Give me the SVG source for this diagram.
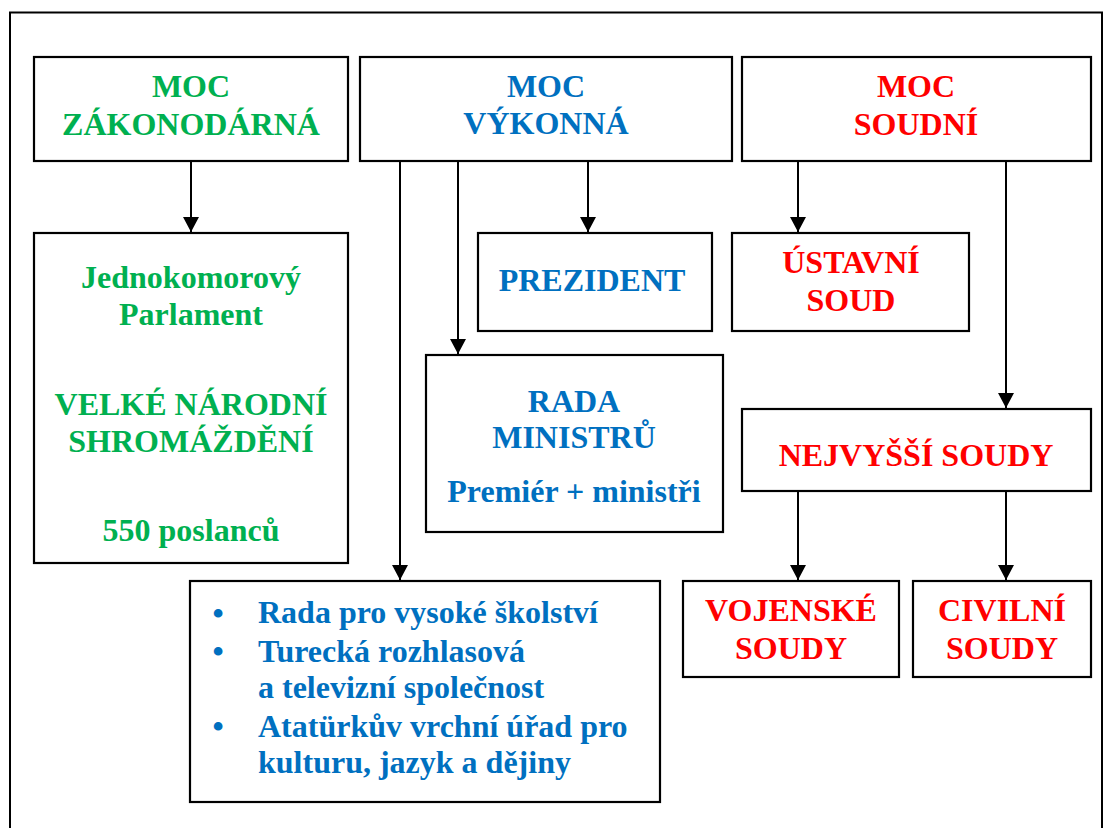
<svg xmlns="http://www.w3.org/2000/svg" width="1103" height="828" viewBox="0 0 1103 828">
<defs>
<marker id="arr" viewBox="0 0 15 16" refX="15" refY="8" markerWidth="15" markerHeight="16" markerUnits="userSpaceOnUse" orient="auto">
<path d="M0,0 L15,8 L0,16 z" fill="#000"/>
</marker>
<style>
.box{fill:#fff;stroke:#000;stroke-width:2.2}
.t{font-family:"Liberation Serif","Times New Roman",serif;font-weight:bold;font-size:32px;text-anchor:middle}
.l{text-anchor:start}
.g{fill:#00B050}
.b{fill:#0070C0}
.r{fill:#FF0000}
.c{stroke:#000;stroke-width:2;fill:none;marker-end:url(#arr)}
</style>
</defs>
<rect x="0" y="0" width="1103" height="828" fill="#fff"/>
<rect x="10" y="12.5" width="1092" height="840" fill="none" stroke="#000" stroke-width="2"/>

<g id="connectors">
<line class="c" x1="191" y1="161" x2="191" y2="232"/>
<line class="c" x1="400" y1="161" x2="400" y2="580"/>
<line class="c" x1="458" y1="161" x2="458" y2="354"/>
<line class="c" x1="588" y1="161" x2="588" y2="232"/>
<line class="c" x1="798" y1="161" x2="798" y2="232"/>
<line class="c" x1="1006" y1="161" x2="1006" y2="408"/>
<line class="c" x1="798" y1="491" x2="798" y2="580"/>
<line class="c" x1="1006" y1="491" x2="1006" y2="580"/>
</g>

<g id="moc-zakonodarna">
<rect class="box" x="34" y="57" width="314" height="104"/>
<text class="t g" x="191" y="97">MOC</text>
<text class="t g" x="191" y="135">ZÁKONODÁRNÁ</text>
</g>

<g id="moc-vykonna">
<rect class="box" x="360" y="57" width="372" height="104"/>
<text class="t b" x="546" y="97">MOC</text>
<text class="t b" x="546" y="134">VÝKONNÁ</text>
</g>

<g id="moc-soudni">
<rect class="box" x="742" y="57" width="349" height="104"/>
<text class="t r" x="916" y="97">MOC</text>
<text class="t r" x="916" y="135">SOUDNÍ</text>
</g>

<g id="parlament">
<rect class="box" x="34" y="233" width="314" height="330"/>
<text class="t g" x="191" y="288">Jednokomorový</text>
<text class="t g" x="191" y="325">Parlament</text>
<text class="t g" x="191" y="415">VELKÉ NÁRODNÍ</text>
<text class="t g" x="191" y="452">SHROMÁŽDĚNÍ</text>
<text class="t g" x="191" y="541">550 poslanců</text>
</g>

<g id="prezident">
<rect class="box" x="478" y="233" width="234" height="98"/>
<text class="t b" x="592" y="291">PREZIDENT</text>
</g>

<g id="rada-ministru">
<rect class="box" x="426" y="355" width="297" height="177"/>
<text class="t b" x="574" y="412">RADA</text>
<text class="t b" x="574" y="448">MINISTRŮ</text>
<text class="t b" x="574" y="502">Premiér + ministři</text>
</g>

<g id="ustavni-soud">
<rect class="box" x="732" y="233" width="237" height="98"/>
<text class="t r" x="851" y="273">ÚSTAVNÍ</text>
<text class="t r" x="851" y="311">SOUD</text>
</g>

<g id="nejvyssi-soudy">
<rect class="box" x="742" y="409" width="349" height="82"/>
<text class="t r" x="916" y="466">NEJVYŠŠÍ SOUDY</text>
</g>

<g id="vojenske-soudy">
<rect class="box" x="683" y="581" width="216" height="96"/>
<text class="t r" x="791" y="621">VOJENSKÉ</text>
<text class="t r" x="791" y="659">SOUDY</text>
</g>

<g id="civilni-soudy">
<rect class="box" x="913" y="581" width="178" height="96"/>
<text class="t r" x="1002" y="621">CIVILNÍ</text>
<text class="t r" x="1002" y="659">SOUDY</text>
</g>

<g id="instituce">
<rect class="box" x="190" y="581" width="470" height="221"/>
<text class="t b" x="218" y="624">•</text>
<text class="t b" x="218" y="662">•</text>
<text class="t b" x="218" y="737">•</text>
<text class="t b l" x="258" y="623">Rada pro vysoké školství</text>
<text class="t b l" x="258" y="662">Turecká rozhlasová</text>
<text class="t b l" x="258" y="698">a televizní společnost</text>
<text class="t b l" x="258" y="737">Atatürkův vrchní úřad pro</text>
<text class="t b l" x="258" y="773">kulturu, jazyk a dějiny</text>
</g>
</svg>
